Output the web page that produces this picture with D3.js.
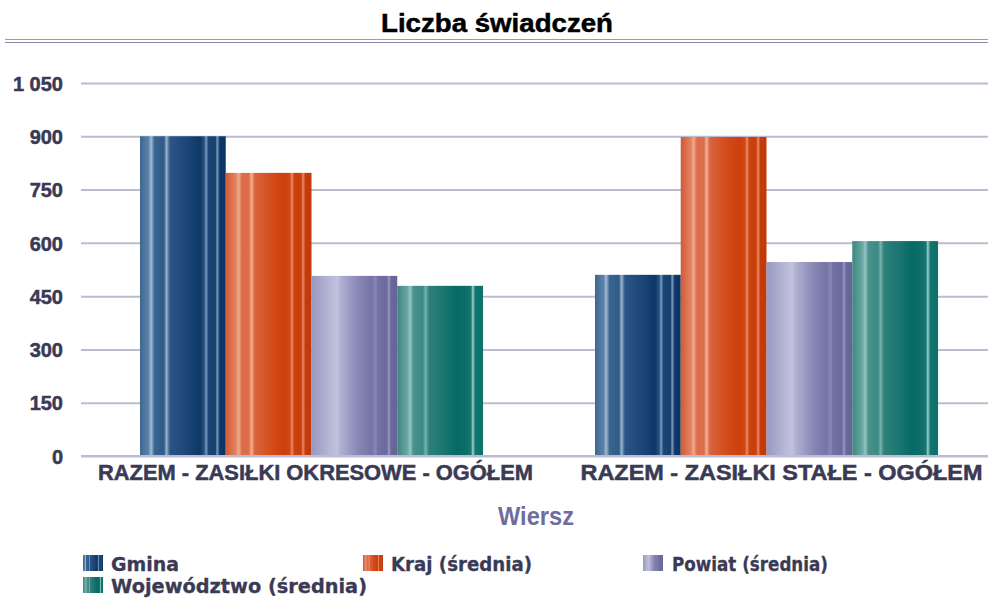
<!DOCTYPE html>
<html><head><meta charset="utf-8">
<script src="https://cdn.jsdelivr.net/npm/d3@7"></script>
<style>body{margin:0;background:#fff;}svg{display:block;}</style>
</head><body>
<script>
const categories = ["RAZEM - ZASIŁKI OKRESOWE - OGÓŁEM", "RAZEM - ZASIŁKI STAŁE - OGÓŁEM"];
const seriesNames = ["Gmina", "Kraj (średnia)", "Powiat (średnia)", "Województwo (średnia)"];
const gmina = [900, 510];
const kraj = [797, 898];
const powiat = [507, 546];
const wojewodztwo = [479, 605];
const yTicks = [0, 150, 300, 450, 600, 750, 900, 1050];
const seriesValues = [gmina, kraj, powiat, wojewodztwo];

const W = 988, H = 600;
const svg = d3.select("body").append("svg").attr("width", W).attr("height", H);
const defs = svg.append("defs");

const gradStops = [
  [[0,"#3d6890"],[0.1,"#5c82aa"],[0.13,"#a4bcd6"],[0.17,"#3a6590"],[0.28,"#2f5b88"],[0.31,"#9ab2ce"],[0.35,"#2a5584"],[0.55,"#1c4677"],[0.7,"#0c3768"],[0.75,"#2a5280"],[0.77,"#7c9cc0"],[0.8,"#1a4474"],[0.88,"#164070"],[0.9,"#7e9ec2"],[0.93,"#0e3869"],[1,"#0a3466"]],
  [[0,"#d05a36"],[0.12,"#e48462"],[0.15,"#f2ab90"],[0.19,"#dc6c48"],[0.27,"#dc6e4a"],[0.3,"#f4ae92"],[0.34,"#d8643e"],[0.55,"#d24a18"],[0.68,"#cc3f0c"],[0.75,"#d04814"],[0.77,"#ee8a6a"],[0.8,"#cc420e"],[0.88,"#c83e0c"],[0.9,"#ee8a6a"],[0.93,"#c43c0a"],[1,"#c0390a"]],
  [[0,"#9898c2"],[0.15,"#aeaed0"],[0.3,"#c2c2de"],[0.34,"#b0b0d2"],[0.55,"#8886b4"],[0.7,"#7674a6"],[0.75,"#8a88b6"],[0.77,"#7472a4"],[0.88,"#6c6a9c"],[0.9,"#9896c2"],[0.93,"#6a689a"],[1,"#666496"]],
  [[0,"#3f8580"],[0.12,"#6aa8a4"],[0.15,"#94c6c2"],[0.19,"#4a908b"],[0.3,"#3c8a85"],[0.33,"#78b2ae"],[0.37,"#2f807b"],[0.55,"#1a7570"],[0.7,"#056a64"],[0.8,"#0e6e69"],[0.86,"#1a7671"],[0.88,"#9cd0cc"],[0.91,"#137570"],[1,"#0e706a"]]
];
gradStops.forEach((stops, i) => {
  const g = defs.append("linearGradient").attr("id", "g" + i)
    .attr("x1", "0").attr("x2", "1").attr("y1", "0").attr("y2", "0");
  stops.forEach(s => g.append("stop").attr("offset", s[0]).attr("stop-color", s[1]));
});

const y = d3.scaleLinear().domain([0, 1050]).range([456, 83]);
const x0 = d3.scaleBand().domain(categories).range([84, 994]).padding(0);
const step = x0.bandwidth();
const x1 = d3.scaleBand().domain(d3.range(4)).range([step * 0.123, step * 0.877]).padding(0);

// Title
svg.append("text").attr("x", 497).attr("y", 32).attr("text-anchor", "middle")
  .attr("font-family", "'Liberation Sans',Arial,sans-serif")
  .attr("font-weight", "bold").attr("font-size", 26).attr("fill", "#000")
  .attr("stroke", "#000").attr("stroke-width", 0.5)
  .attr("textLength", 232).attr("lengthAdjust", "spacingAndGlyphs")
  .text("Liczba świadczeń");
// double line
svg.append("line").attr("x1", 5).attr("x2", 988).attr("y1", 39.5).attr("y2", 39.5).attr("stroke", "#9a9ab8").attr("stroke-width", 1.2);
svg.append("line").attr("x1", 5).attr("x2", 988).attr("y1", 42.5).attr("y2", 42.5).attr("stroke", "#8a8aaa").attr("stroke-width", 1.2);

// grid
const yAxis = d3.axisLeft(y).tickValues(yTicks).tickSize(-(988 - 81)).tickPadding(18)
  .tickFormat(d => d3.format(",")(d).replace(/,/g, " "));
const gy = svg.append("g").attr("transform", "translate(81,0)").call(yAxis);
gy.select(".domain").remove();
gy.selectAll(".tick line").attr("stroke", "#bcbcd0").attr("stroke-width", 2);
gy.selectAll(".tick text").attr("font-family", "'Liberation Sans',Arial,sans-serif").attr("font-weight", "bold")
  .attr("font-size", 20).attr("fill", "#3a3a55").attr("dy", "0.36em")
  .attr("stroke", "#3a3a55").attr("stroke-width", 0.5);

// bars
const groups = svg.append("g").selectAll("g").data(categories).join("g")
  .attr("transform", d => `translate(${x0(d)},0)`);
groups.selectAll("rect").data((d, ci) => seriesValues.map((s, si) => ({si, v: s[ci]})))
  .join("rect")
  .attr("x", d => x1(d.si)).attr("width", x1.bandwidth())
  .attr("y", d => y(d.v)).attr("height", d => y(0) - y(d.v))
  .attr("fill", d => `url(#g${d.si})`);

// x-axis category labels
const xAxis = d3.axisBottom(x0).tickSize(0).tickPadding(8);
const gx = svg.append("g").attr("transform", "translate(0,456)").call(xAxis);
gx.select(".domain").attr("stroke", "#bcbcd0").attr("stroke-width", 2).attr("d", "M81,0H988");
gx.selectAll(".tick text").attr("font-family", "'Liberation Sans',Arial,sans-serif")
  .attr("font-weight", "bold").attr("font-size", 22).attr("fill", "#3a3a55").attr("dy", "0.71em")
  .attr("stroke", "#3a3a55").attr("stroke-width", 0.5)
  .attr("textLength", (d, i) => i === 0 ? 435 : 402).attr("lengthAdjust", "spacingAndGlyphs")
  .attr("dx", (d, i) => i === 0 ? 4 : 15);

// axis title
svg.append("text").attr("x", 536).attr("y", 525).attr("text-anchor", "middle")
  .attr("font-family", "'Liberation Sans',Arial,sans-serif")
  .attr("font-weight", "bold").attr("font-size", 25).attr("fill", "#6e6e9c")
  .attr("textLength", 76).attr("lengthAdjust", "spacingAndGlyphs").text("Wiersz");

// legend
const legendPos = [[83, 555], [363, 555], [643, 555], [83, 577]];
const legendLen = [68, 141, 156, 256];
const lg = svg.append("g").selectAll("g").data(seriesNames).join("g")
  .attr("transform", (d, i) => `translate(${legendPos[i][0]},${legendPos[i][1]})`);
lg.append("rect").attr("width", 20).attr("height", 16).attr("fill", (d, i) => `url(#g${i})`);
lg.append("text").attr("x", (d, i) => i === 2 ? 29 : 28).attr("y", 15.5).attr("font-family", "'DejaVu Sans',sans-serif")
  .attr("font-weight", "bold").attr("font-size", 19).attr("fill", "#3a3a55")
  .attr("stroke", "#3a3a55").attr("stroke-width", 0.3)
  .attr("textLength", (d, i) => legendLen[i]).attr("lengthAdjust", "spacingAndGlyphs").text(d => d);
</script>
</body></html>
